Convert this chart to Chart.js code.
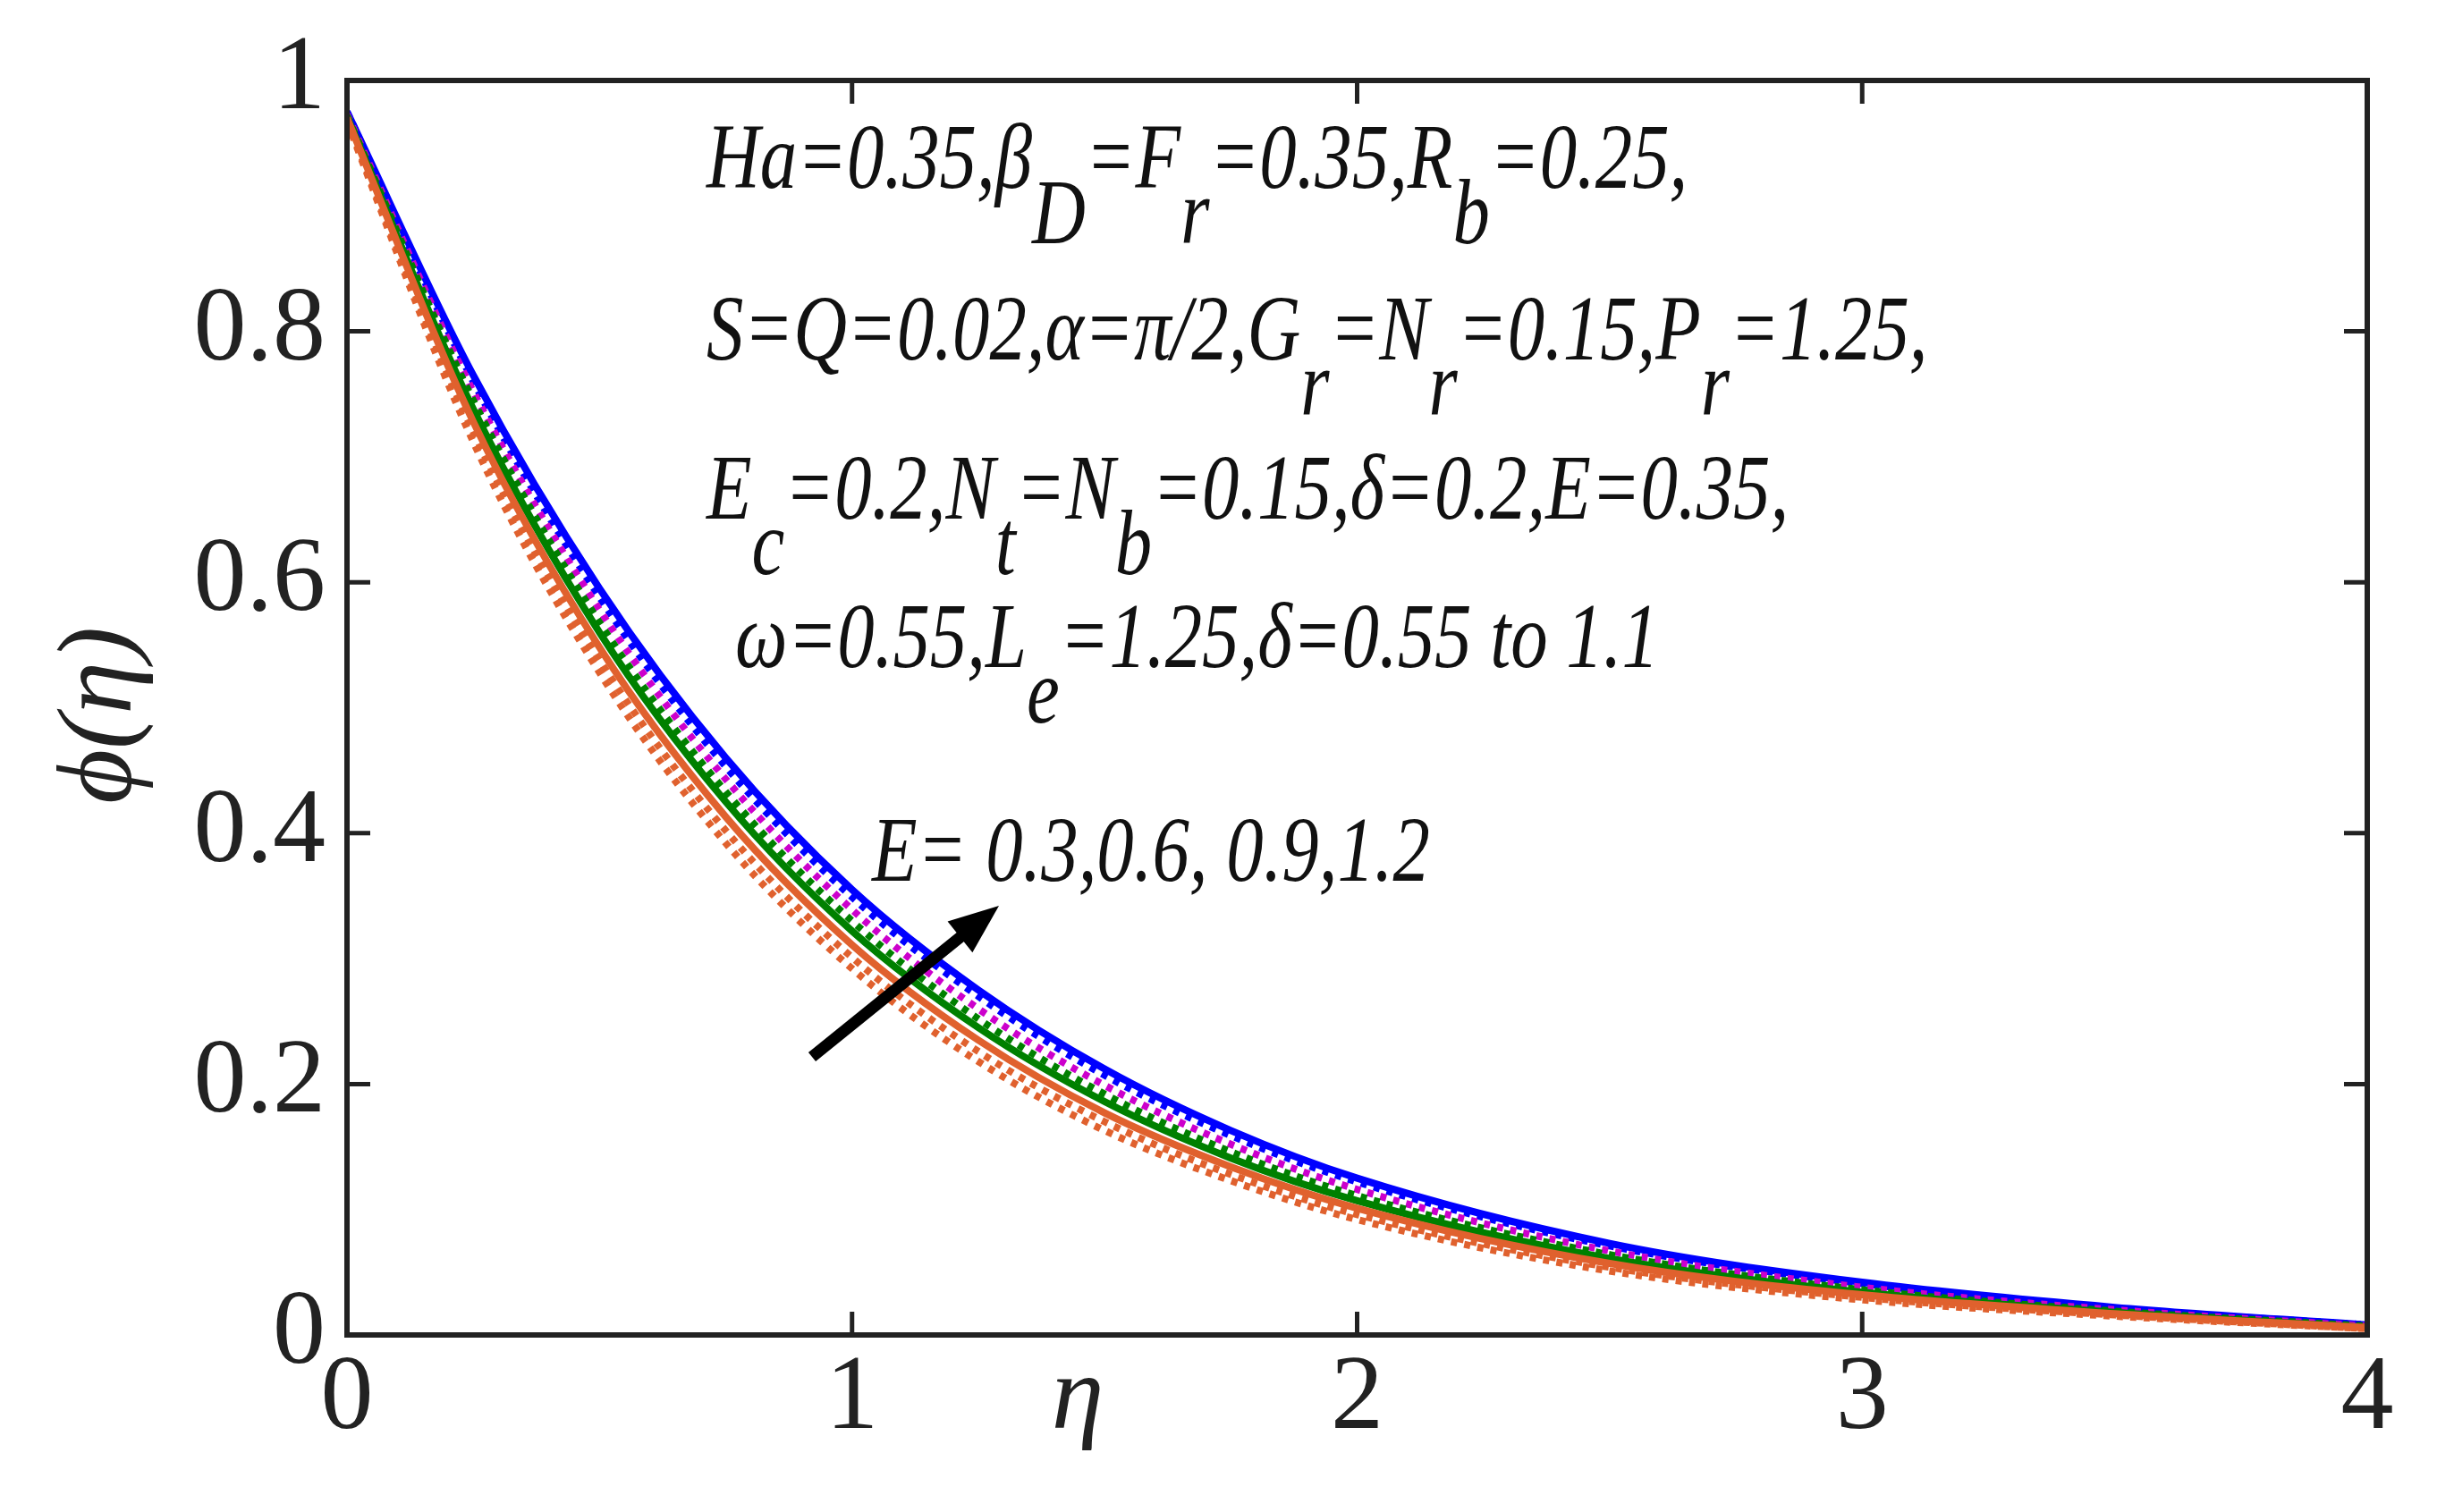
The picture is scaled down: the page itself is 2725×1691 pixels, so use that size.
<!DOCTYPE html>
<html>
<head>
<meta charset="utf-8">
<script src="https://cdn.jsdelivr.net/npm/chart.js@4.4.1/dist/chart.umd.min.js"></script>
<style>
  html, body { margin: 0; padding: 0; background: #fff; }
  #wrap { width: 2725px; height: 1691px; }
</style>
</head>
<body>
<div id="wrap"><canvas id="phiChart"></canvas></div>
<script>
// 数据
const etaValues = [0, 0.25, 0.5, 0.75, 1, 1.25, 1.5, 1.75, 2, 2.5, 3, 3.5, 4];
const blueSolid   = [0.975, 0.765, 0.595, 0.46, 0.355, 0.275, 0.212, 0.163, 0.125, 0.073, 0.042, 0.022, 0.008];
const blueDot     = [0.975, 0.76, 0.588, 0.453, 0.349, 0.27, 0.207, 0.159, 0.122, 0.071, 0.041, 0.021, 0.008];
const magentaDot  = [0.973, 0.752, 0.578, 0.443, 0.339, 0.26, 0.199, 0.152, 0.116, 0.067, 0.038, 0.02, 0.007];
const greenDot    = [0.972, 0.745, 0.568, 0.433, 0.33, 0.252, 0.192, 0.146, 0.111, 0.064, 0.036, 0.019, 0.007];
const greenSolid  = [0.971, 0.738, 0.56, 0.425, 0.322, 0.245, 0.186, 0.141, 0.107, 0.061, 0.034, 0.018, 0.006];
const orangeSolid = [0.97, 0.728, 0.548, 0.413, 0.311, 0.235, 0.177, 0.134, 0.101, 0.057, 0.032, 0.017, 0.006];
const orangeDot   = [0.968, 0.72, 0.538, 0.402, 0.301, 0.226, 0.17, 0.128, 0.096, 0.054, 0.03, 0.016, 0.005];
const orangeDot2  = [0.967, 0.712, 0.528, 0.392, 0.292, 0.218, 0.163, 0.123, 0.092, 0.051, 0.028, 0.015, 0.005];
const xTicks = [0, 1, 2, 3, 4];
const yTicks = [0, 0.2, 0.4, 0.6, 0.8, 1];
const yTickLabels = ['0', '0.2', '0.4', '0.6', '0.8', '1'];

const SERIF = '"Liberation Serif", "DejaVu Serif", serif';

function toPoints(ys) {
    return etaValues.map((x, i) => ({ x: x, y: ys[i] }));
}

function lineSet(ys, color, dotted) {
    return {
        data: toPoints(ys),
        borderColor: color,
        borderWidth: dotted ? 8 : 8,
        borderDash: dotted ? [7, 8] : [],
        pointRadius: 0,
        cubicInterpolationMode: 'monotone',
        fill: false
    };
}

// 带下标的文字
function drawRich(ctx, x, y, parts, size) {
    ctx.font = 'italic ' + size + 'px ' + SERIF;
    ctx.textBaseline = 'alphabetic';
    ctx.textAlign = 'left';
    parts.forEach(p => {
        const sub = p.startsWith('_');
        const t = sub ? p.slice(1) : p;
        ctx.save();
        ctx.translate(x, sub ? y + 62 : y);
        ctx.scale(0.9, 1.12);
        ctx.fillText(t, 0, 0);
        ctx.restore();
        x += ctx.measureText(t).width * 0.9;
    });
}

const framePlugin = {
    id: 'frame',
    afterDraw(chart) {
        const { ctx, chartArea: a, scales } = chart;
        ctx.save();
        ctx.fillStyle = '#222';
        ctx.strokeStyle = '#222';
        ctx.lineWidth = 6;
        ctx.strokeRect(a.left, a.top, a.right - a.left, a.bottom - a.top);
        ctx.lineWidth = 5;
        xTicks.forEach(v => {
            const px = scales.x.getPixelForValue(v);
            ctx.beginPath();
            ctx.moveTo(px, a.bottom); ctx.lineTo(px, a.bottom - 26);
            ctx.moveTo(px, a.top); ctx.lineTo(px, a.top + 26);
            ctx.stroke();
        });
        yTicks.forEach(v => {
            const py = scales.y.getPixelForValue(v);
            ctx.beginPath();
            ctx.moveTo(a.left, py); ctx.lineTo(a.left + 26, py);
            ctx.moveTo(a.right, py); ctx.lineTo(a.right - 26, py);
            ctx.stroke();
        });
        ctx.font = '118px ' + SERIF;
        ctx.textAlign = 'center';
        ctx.textBaseline = 'top';
        xTicks.forEach(v => {
            ctx.fillText(String(v), scales.x.getPixelForValue(v), a.bottom + 14);
        });
        ctx.textAlign = 'right';
        ctx.textBaseline = 'middle';
        yTicks.forEach((v, i) => {
            ctx.fillText(yTickLabels[i], a.left - 24, scales.y.getPixelForValue(v));
        });
        // 轴标题
        ctx.font = 'italic 118px ' + SERIF;
        ctx.textAlign = 'center';
        ctx.textBaseline = 'top';
        ctx.fillText('η', 1205, a.bottom + 14);
        ctx.save();
        ctx.translate(115, 800);
        ctx.rotate(-Math.PI / 2);
        ctx.textBaseline = 'middle';
        ctx.fillText('ϕ(η)', 0, 0);
        ctx.restore();

        // 参数说明
        ctx.fillStyle = '#111';
        drawRich(ctx, 790, 210, ['Ha=0.35,β', '_D', '=F', '_r', '=0.35,R', '_b', '=0.25,'], 92);
        drawRich(ctx, 790, 402, ['S=Q=0.02,α=π/2,G', '_r', '=N', '_r', '=0.15,P', '_r', '=1.25,'], 92);
        drawRich(ctx, 790, 580, ['E', '_c', '=0.2,N', '_t', '=N', '_b', '=0.15,δ=0.2,E=0.35,'], 92);
        drawRich(ctx, 822, 746, ['ω=0.55,L', '_e', '=1.25,δ=0.55 to 1.1'], 92);
        drawRich(ctx, 975, 985, ['E= 0.3,0.6, 0.9,1.2'], 92);

        // 箭头
        ctx.strokeStyle = '#000';
        ctx.fillStyle = '#000';
        ctx.lineWidth = 13;
        ctx.beginPath();
        ctx.moveTo(908, 1182);
        ctx.lineTo(1080, 1043);
        ctx.stroke();
        const ang = Math.atan2(1015 - 1182, 1117 - 908);
        ctx.beginPath();
        ctx.moveTo(1117, 1013);
        ctx.lineTo(1117 - 60 * Math.cos(ang - 0.38), 1013 - 60 * Math.sin(ang - 0.38));
        ctx.lineTo(1117 - 60 * Math.cos(ang + 0.38), 1013 - 60 * Math.sin(ang + 0.38));
        ctx.closePath();
        ctx.fill();
        ctx.restore();
    }
};

new Chart(document.getElementById('phiChart'), {
    type: 'line',
    data: {
        datasets: [
            lineSet(orangeDot2, '#e0612e', true),
            lineSet(orangeDot, '#e0612e', true),
            lineSet(orangeSolid, '#e0612e', false),
            lineSet(greenSolid, '#008000', false),
            lineSet(greenDot, '#008000', true),
            lineSet(magentaDot, '#cc00cc', true),
            lineSet(blueDot, '#0000ff', true),
            lineSet(blueSolid, '#0000ff', false)
        ]
    },
    options: {
        responsive: true,
        maintainAspectRatio: false,
        animation: false,
        devicePixelRatio: 1,
        layout: { padding: { left: 388, top: 90, right: 78, bottom: 198 } },
        plugins: { legend: { display: false }, tooltip: { enabled: false } },
        scales: {
            x: { type: 'linear', min: 0, max: 4, display: false },
            y: { type: 'linear', min: 0, max: 1, display: false }
        }
    },
    plugins: [framePlugin]
});
</script>
</body>
</html>
